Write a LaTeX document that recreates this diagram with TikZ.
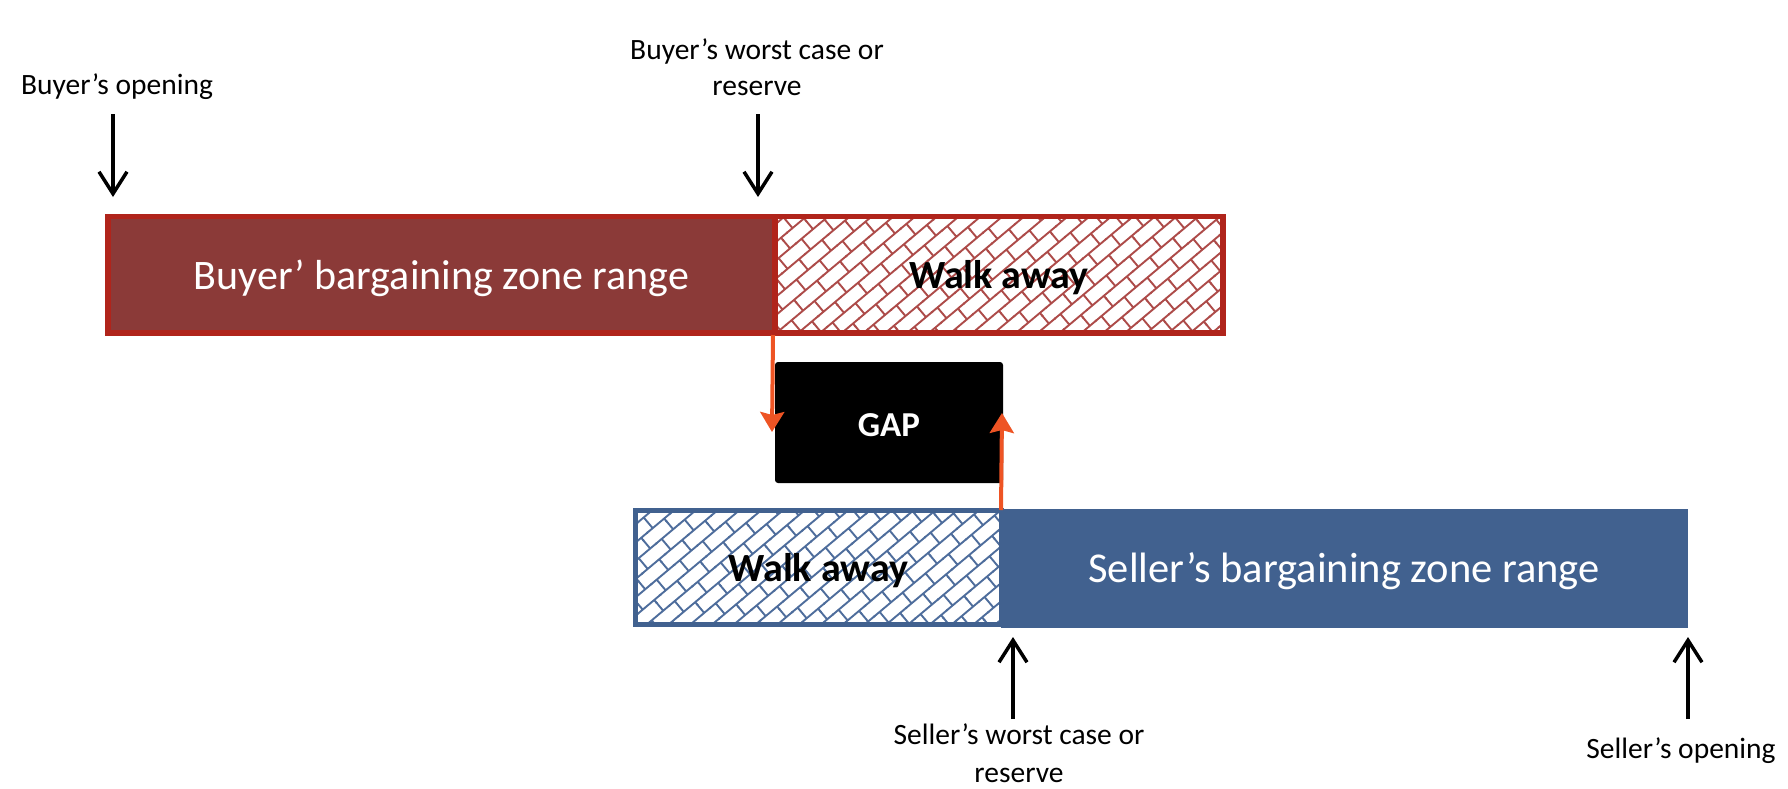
\documentclass[tikz,border=0pt]{standalone}
\usepackage{fontspec}
\setmainfont{Carlito}
\usetikzlibrary{arrows.meta,patterns.meta}

\definecolor{buyerfill}{HTML}{8B3A38}
\definecolor{buyerline}{HTML}{B0241B}
\definecolor{buyerhatch}{HTML}{AD4B49}
\definecolor{sellerfill}{HTML}{41618F}
\definecolor{sellerhatch}{HTML}{4E6D9C}
\definecolor{orangearrow}{HTML}{EE5424}

\pgfdeclarepattern{
  name=brickweave,
  type=uncolored,
  bottom left={\pgfpoint{-1pt}{-1pt}},
  top right={\pgfpoint{31pt}{29pt}},
  tile size={\pgfpoint{30pt}{28pt}},
  tile transformation={\pgftransformrotate{40}},
  code={
    \pgfsetlinewidth{1.9pt}
    \pgfpathmoveto{\pgfpoint{-1pt}{3.5pt}}\pgfpathlineto{\pgfpoint{31pt}{3.5pt}}
    \pgfpathmoveto{\pgfpoint{-1pt}{17.5pt}}\pgfpathlineto{\pgfpoint{31pt}{17.5pt}}
    \pgfpathmoveto{\pgfpoint{7pt}{3.5pt}}\pgfpathlineto{\pgfpoint{7pt}{17.5pt}}
    \pgfpathmoveto{\pgfpoint{22pt}{17.5pt}}\pgfpathlineto{\pgfpoint{22pt}{29pt}}
    \pgfpathmoveto{\pgfpoint{22pt}{-1pt}}\pgfpathlineto{\pgfpoint{22pt}{3.5pt}}
    \pgfusepath{stroke}
  }
}

\begin{document}
\begin{tikzpicture}[x=1pt,y=-1pt,
  lbl/.style={font=\fontsize{29.5}{36}\selectfont, inner sep=0pt, align=center, anchor=base, text=black},
  bar/.style={rectangle, inner sep=0pt, outer sep=0pt, text depth=0pt},
  buyerzone/.style={bar, fill=buyerfill, draw=buyerline, line width=5.5pt, text=white, font=\fontsize{42}{50}\selectfont},
  buyerwalk/.style={bar, pattern={brickweave}, pattern color=buyerhatch, draw=buyerline, line width=5.5pt, text=black, font=\fontsize{40}{48}\selectfont\bfseries},
  sellerzone/.style={bar, fill=sellerfill, draw=sellerfill, line width=1pt, text=white, font=\fontsize{42.5}{50}\selectfont},
  sellerwalk/.style={bar, pattern={brickweave}, pattern color=sellerhatch, draw=sellerfill, line width=5pt, text=black, font=\fontsize{40}{48}\selectfont\bfseries},
  gapbox/.style={bar, fill=black, rounded corners=3pt, text=white, text height=28pt, font=\fontsize{35}{42}\selectfont\bfseries},
  blk/.style={draw=black, line width=3.5pt, -{Straight Barb[length=22pt,width=28pt]}},
  org/.style={draw=orangearrow, line width=4pt, -{Stealth[length=20pt,width=24pt,inset=3pt]}}
]
\useasboundingbox (0,0) rectangle (1788,788);

% buyer bar
\node[buyerwalk, minimum width=448pt, minimum height=116.5pt] (bw) at (999,274.75) {Walk away};
\node[buyerzone, minimum width=667pt, minimum height=116.5pt] (bz) at (441.5,274.75) {Buyer’ bargaining zone range};

% seller bar
\node[sellerzone, minimum width=686pt, minimum height=118pt] (sz) at (1344,568) {Seller’s bargaining zone range};
\node[sellerwalk, minimum width=365.5pt, minimum height=114pt] (sw) at (818.25,567.5) {Walk away};

% gap
\node[gapbox, minimum width=228pt, minimum height=121pt] (gap) at (889,422.5) {GAP};

% labels
\node[lbl] (bol) at (117,94) {Buyer’s opening};
\node[lbl] (bwl) at (757,95) {Buyer’s worst case or\\reserve};
\node[lbl, font=\fontsize{29.5}{38}\selectfont] (swl) at (1019,782) {Seller’s worst case or\\reserve};
\node[lbl] (sol) at (1681,758) {Seller’s opening};

% arrow end points
\coordinate (b1s) at (113,114);
\coordinate (b1e) at (113,197);
\coordinate (b2s) at (758,114);
\coordinate (b2e) at (758,197);
\coordinate (s1s) at (1013,719);
\coordinate (s1e) at (1013,637);
\coordinate (s2s) at (1688,719);
\coordinate (s2e) at (1688,637);
\coordinate (o1s) at (773,335);
\coordinate (o1e) at (772,432);
\coordinate (o2s) at (1001,510);
\coordinate (o2e) at (1002,413);

\draw[blk] (b1s) -- (b1e);
\draw[blk] (b2s) -- (b2e);
\draw[blk] (s1s) -- (s1e);
\draw[blk] (s2s) -- (s2e);
\draw[org] (o1s) -- (o1e);
\draw[org] (o2s) -- (o2e);
\end{tikzpicture}
\end{document}
